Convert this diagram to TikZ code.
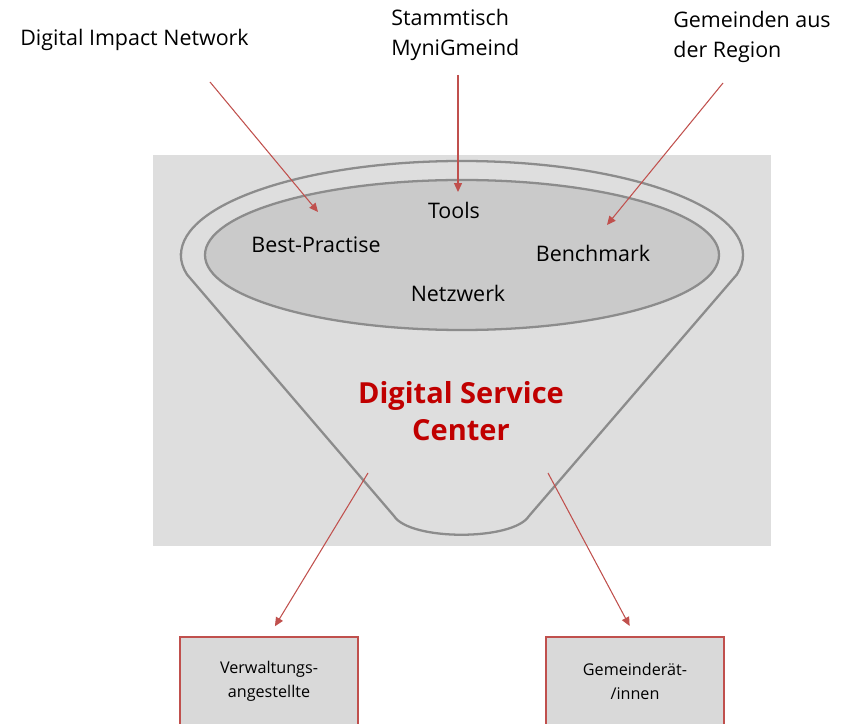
\documentclass[tikz,border=0pt]{standalone}
\usepackage{fontspec}
\setmainfont{Open Sans}
\usetikzlibrary{arrows.meta}

\definecolor{dscrot}{HTML}{C00000}
\definecolor{pfeilrot}{HTML}{C0504D}
\definecolor{hellgrau}{HTML}{DEDEDE}
\definecolor{mittelgrau}{HTML}{CACACA}
\definecolor{boxgrau}{HTML}{D9D9D9}
\definecolor{randgrau}{HTML}{8C8C8C}

\begin{document}
\begin{tikzpicture}[x=0.02cm, y=0.02cm, >={Triangle[length=5pt, width=4.5pt]},
    pfeil/.style={->, pfeilrot, line width=0.6pt},
    etikett/.style={font=\fontsize{12.2}{17}\selectfont, align=left, inner sep=0pt, anchor=west},
    innen/.style={font=\fontsize{12.2}{14}\selectfont, inner sep=1pt},
    dsc/.style={font=\bfseries\fontsize{16.5}{21}\selectfont, text=dscrot, align=center},
    zielbox/.style={draw=pfeilrot, line width=1.1pt, fill=boxgrau, align=center,
      minimum width=3.56cm, minimum height=1.76cm, font=\fontsize{9.2}{13.6}\selectfont}]

  \useasboundingbox (0,0) rectangle (851,723);

  % Hintergrund
  \fill[hellgrau] (153,177) rectangle (771,568);

  % Trichter (aussen)
  \draw[randgrau, line width=1.3pt, fill=hellgrau]
    (181,468) arc[start angle=180, end angle=0, x radius=281, y radius=94]
    arc[start angle=0, end angle=-12, x radius=281, y radius=94]
    -- (529,207) .. controls (513,182) and (410,182) .. (394,207)
    -- (187,448.5) arc[start angle=192, end angle=180, x radius=281, y radius=94]
    -- cycle;

  % Oeffnung (innen)
  \draw[randgrau, line width=1.3pt, fill=mittelgrau]
    (462,468) ellipse[x radius=257, y radius=75];

  % Inhalte
  \node[innen] (tools) at (454,513) {Tools};
  \node[innen] (bp) at (316,478) {Best-Practise};
  \node[innen] (bench) at (593,470) {Benchmark};
  \node[innen] (netz) at (458,430) {Netzwerk};
  \node[dsc] (dsc) at (461,312) {Digital Service\\Center};

  % Quellen oben
  \node[etikett] (din) at (20,683) {Digital Impact Network};
  \node[etikett] (stamm) at (391,688) {Stammtisch\\MyniGmeind};
  \node[etikett] (gem) at (673,686) {Gemeinden aus\\der Region};

  \coordinate (dinS) at (210,641);
  \coordinate (dinZ) at (318,511);
  \coordinate (stammS) at (458,648);
  \coordinate (stammZ) at (458,531);
  \coordinate (gemS) at (723,640);
  \coordinate (gemZ) at (607,498);

  \draw[pfeil] (dinS) -- (dinZ);
  \draw[pfeil] (stammS) -- (stammZ);
  \draw[pfeil] (gemS) -- (gemZ);

  % Zielgruppen unten
  \node[zielbox] (verw) at (269,42) {Verwaltungs-\\angestellte};
  \node[zielbox] (gemr) at (635,42) {Gemeinderät-\\/innen};

  \coordinate (ausL) at (368,250);
  \coordinate (ausR) at (548,250);

  \draw[pfeil, shorten >=6.5pt] (ausL) -- (verw.north);
  \draw[pfeil, shorten >=6.5pt] (ausR) -- (gemr.north);

\end{tikzpicture}
\end{document}
